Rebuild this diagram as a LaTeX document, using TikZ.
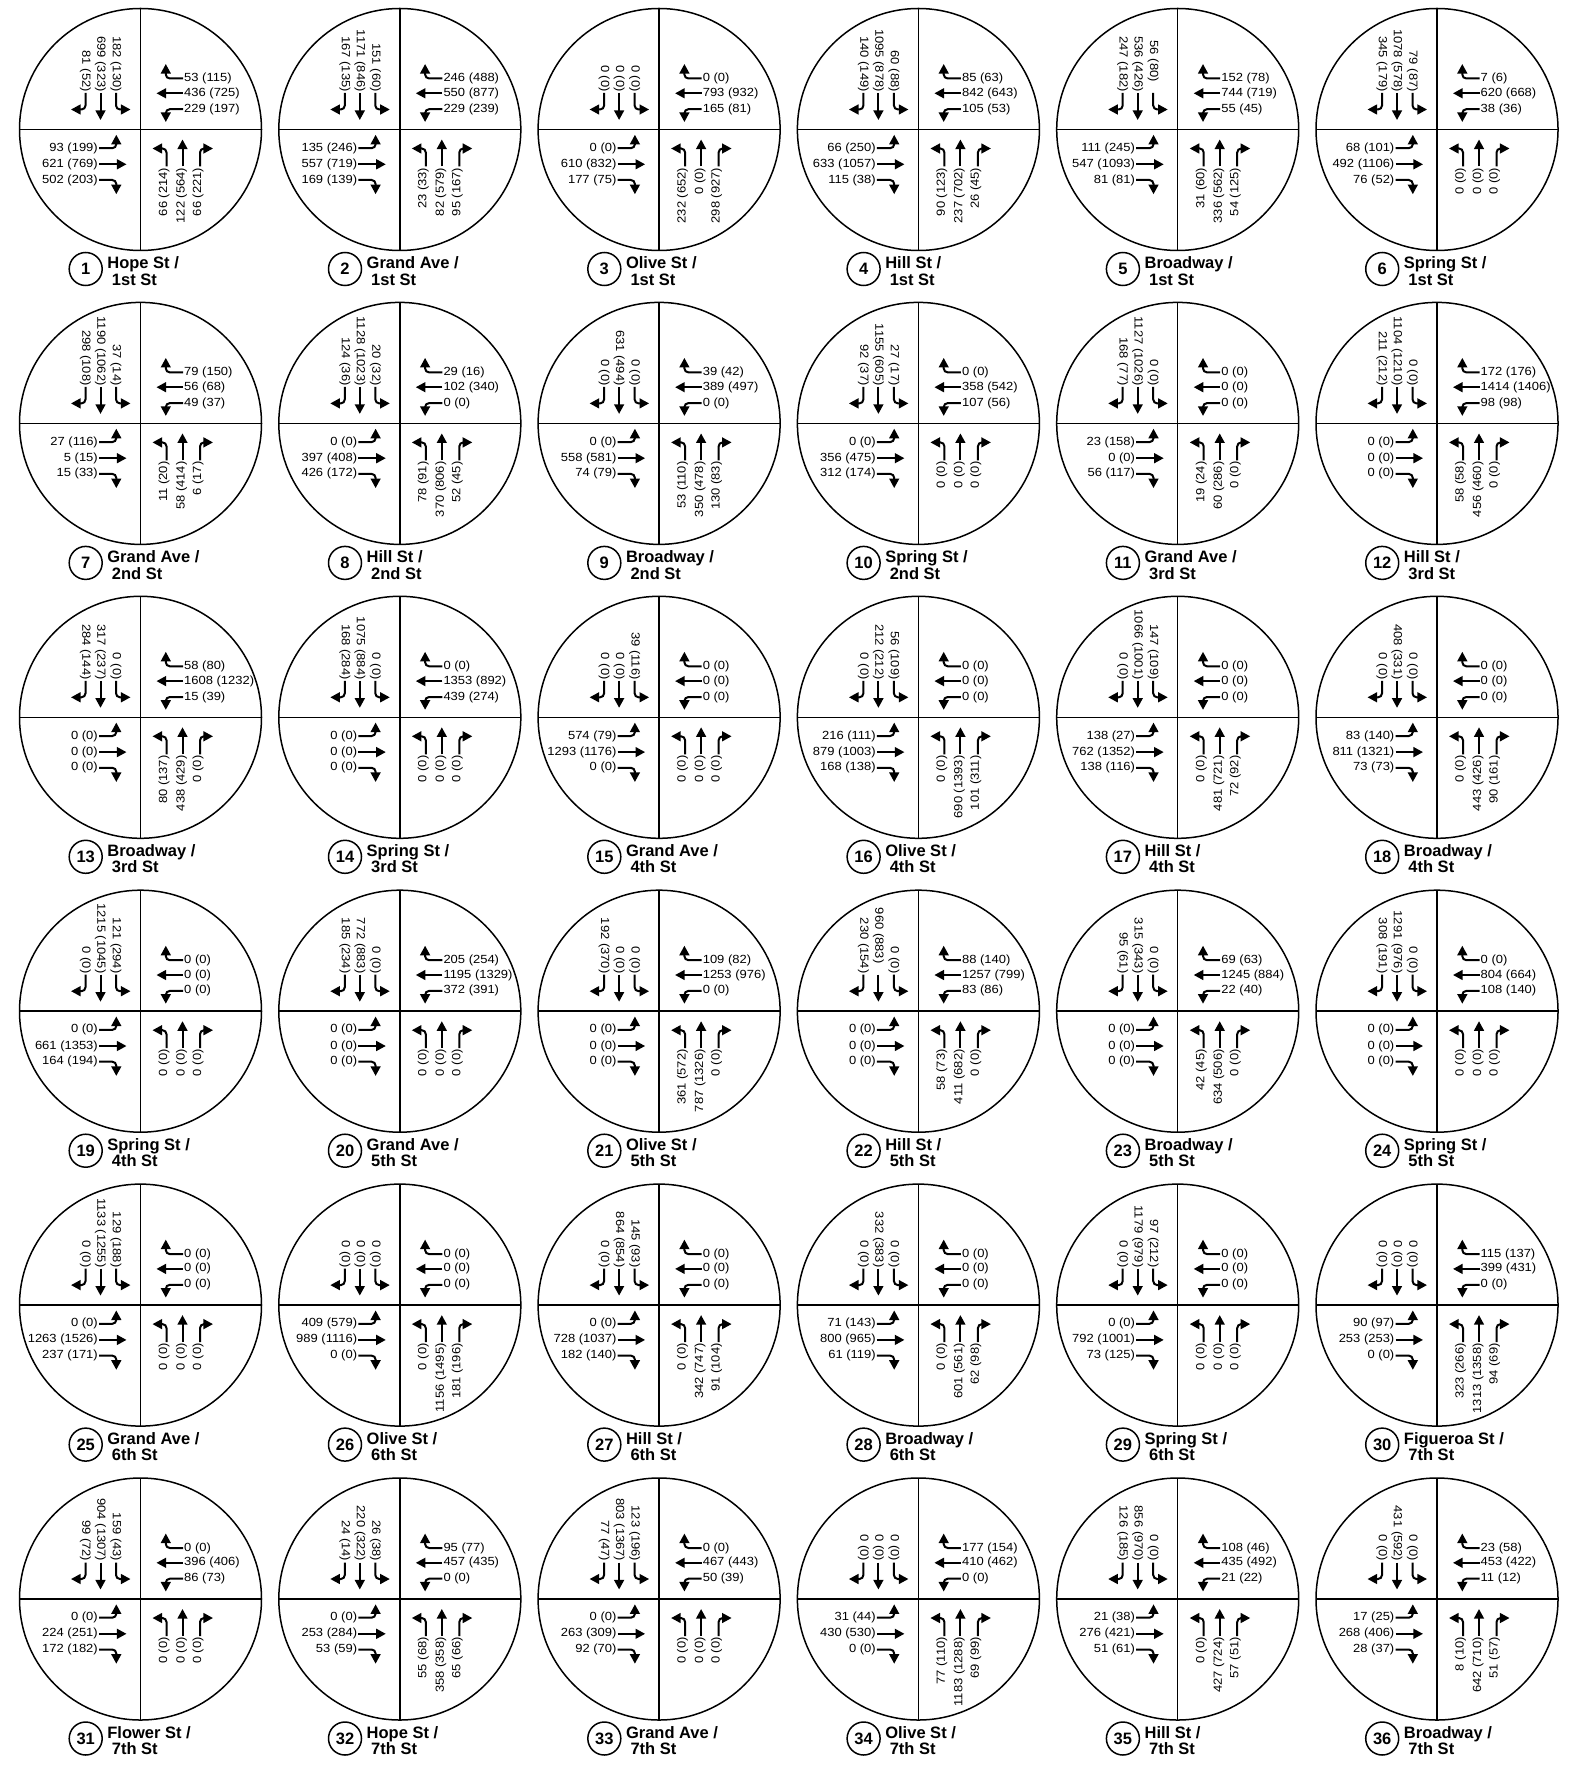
\documentclass[tikz,border=0pt]{standalone}
\usepackage{fontspec}
\setmainfont{Liberation Sans}
\newfontfamily\volfont[FakeStretch=1.1]{Liberation Sans}
\usetikzlibrary{arrows.meta}
\tikzset{
  ring/.style={line width=0.75pt},
  arr/.style={line width=1pt,-{Triangle[length=4.8pt,width=4.9pt]}},
  turn/.style={arr,rounded corners=2pt},
  vtxt/.style={font=\volfont\fontsize{5.9pt}{7pt}\selectfont,inner sep=0.4pt},
  lab/.style={font=\bfseries\fontsize{8.25pt}{10pt}\selectfont,inner sep=0pt},
  numcirc/.style={circle,draw,line width=0.75pt,minimum size=16.5pt,inner sep=0pt,
    font=\bfseries\fontsize{8.25pt}{10pt}\selectfont}
}
\newcommand\SB[3]{\def\sbA{#1}\def\sbB{#2}\def\sbC{#3}}
\newcommand\WB[3]{\def\wbA{#1}\def\wbB{#2}\def\wbC{#3}}
\newcommand\EB[3]{\def\ebA{#1}\def\ebB{#2}\def\ebC{#3}}
\newcommand\NB[3]{\def\nbA{#1}\def\nbB{#2}\def\nbC{#3}}
\def\sboA{0}\def\sboB{0}\def\sboC{0}
\newcommand\Xsect[5]{%
 \begin{scope}[shift={({140.5+259.3*#1},{129.5+293.9*#2})}]
  \draw[ring] (0,0) circle[radius=60.5pt];
  \draw[ring] (0,-121) -- (0,121);
  \draw[ring] (-121,0) -- (121,0);
  % southbound
  \node[vtxt,rotate=-90,anchor=east] (s#3a) at (-55,{-36.5+(\sboA)}) {\sbA};
  \node[vtxt,rotate=-90,anchor=east] (s#3b) at (-40,{-36.5+(\sboB)}) {\sbB};
  \node[vtxt,rotate=-90,anchor=east] (s#3c) at (-24.5,{-36.5+(\sboC)}) {\sbC};
  \draw[turn] (-55,-36.5) -- (-55,-20) -- (-69.5,-20);
  \draw[arr] (-40,-36.5) -- (-40,-9.5);
  \draw[turn] (-24.5,-36.5) -- (-24.5,-20) -- (-10,-20);
  % westbound
  \node[vtxt,anchor=west] (w#3a) at (42.5,-51) {\wbA};
  \node[vtxt,anchor=west] (w#3b) at (42.5,-36.2) {\wbB};
  \node[vtxt,anchor=west] (w#3c) at (42.5,-20.3) {\wbC};
  \draw[turn] (42.5,-51) -- (25.3,-51) -- (25.3,-65.5);
  \draw[arr] (42.5,-36.2) -- (16,-36.2);
  \draw[turn] (42.5,-20.3) -- (25.3,-20.3) -- (25.3,-7.5);
  % eastbound
  \node[vtxt,anchor=east] (e#3a) at (-41.5,18.7) {\ebA};
  \node[vtxt,anchor=east] (e#3b) at (-41.5,34.8) {\ebB};
  \node[vtxt,anchor=east] (e#3c) at (-41.5,50.5) {\ebC};
  \draw[turn] (-41.5,18.7) -- (-24.2,18.7) -- (-24.2,5.3);
  \draw[arr] (-41.5,34.8) -- (-14,34.8);
  \draw[turn] (-41.5,50.5) -- (-24.2,50.5) -- (-24.2,64.7);
  % northbound
  \node[vtxt,rotate=90,anchor=east] (n#3a) at (23.5,37) {\nbA};
  \node[vtxt,rotate=90,anchor=east] (n#3b) at (41,37) {\nbB};
  \node[vtxt,rotate=90,anchor=east] (n#3c) at (57.5,37) {\nbC};
  \draw[turn] (26,37) -- (26,19) -- (12,19);
  \draw[arr] (42,37) -- (42,10);
  \draw[turn] (59.5,37) -- (59.5,19) -- (72.5,19);
  % label
  \node[numcirc] (num#3) at (-54.8,139.5) {#3};
  \node[lab,anchor=base west] (la#3) at (-33.5,139.2) {#4};
  \node[lab,anchor=base west] (lb#3) at (-29,155.6) {#5};
 \end{scope}}
\begin{document}
\begin{tikzpicture}[x=0.5pt,y=-0.5pt]
\fill[white] (0,0) rectangle (1568,1775);
\useasboundingbox (0,0) rectangle (1568,1775);
% row 1
\SB{81 (52)}{699 (323)}{182 (130)}\WB{53 (115)}{436 (725)}{229 (197)}\EB{93 (199)}{621 (769)}{502 (203)}\NB{66 (214)}{122 (564)}{66 (221)}
\Xsect{0}{0}{1}{Hope St /}{1st St}
\SB{167 (135)}{1171 (846)}{151 (60)}\WB{246 (488)}{550 (877)}{229 (239)}\EB{135 (246)}{557 (719)}{169 (139)}\NB{23 (33)}{82 (579)}{95 (167)}
\Xsect{1}{0}{2}{Grand Ave /}{1st St}
\SB{0 (0)}{0 (0)}{0 (0)}\WB{0 (0)}{793 (932)}{165 (81)}\EB{0 (0)}{610 (832)}{177 (75)}\NB{232 (652)}{0 (0)}{298 (927)}
\Xsect{2}{0}{3}{Olive St /}{1st St}
\SB{140 (149)}{1095 (878)}{60 (88)}\WB{85 (63)}{842 (643)}{105 (53)}\EB{66 (250)}{633 (1057)}{115 (38)}\NB{90 (123)}{237 (702)}{26 (45)}
\Xsect{3}{0}{4}{Hill St /}{1st St}
\SB{247 (182)}{536 (426)}{56 (80)}\WB{152 (78)}{744 (719)}{55 (45)}\EB{111 (245)}{547 (1093)}{81 (81)}\NB{31 (60)}{336 (562)}{54 (125)}
\def\sboC{-10}
\Xsect{4}{0}{5}{Broadway /}{1st St}
\def\sboC{0}
\SB{345 (179)}{1078 (578)}{79 (87)}\WB{7 (6)}{620 (668)}{38 (36)}\EB{68 (101)}{492 (1106)}{76 (52)}\NB{0 (0)}{0 (0)}{0 (0)}
\Xsect{5}{0}{6}{Spring St /}{1st St}
% row 2
\SB{298 (108)}{1190 (1062)}{37 (14)}\WB{79 (150)}{56 (68)}{49 (37)}\EB{27 (116)}{5 (15)}{15 (33)}\NB{11 (20)}{58 (414)}{6 (17)}
\Xsect{0}{1}{7}{Grand Ave /}{2nd St}
\SB{124 (36)}{1128 (1023)}{20 (32)}\WB{29 (16)}{102 (340)}{0 (0)}\EB{0 (0)}{397 (408)}{426 (172)}\NB{78 (91)}{370 (806)}{52 (45)}
\Xsect{1}{1}{8}{Hill St /}{2nd St}
\SB{0 (0)}{631 (494)}{0 (0)}\WB{39 (42)}{389 (497)}{0 (0)}\EB{0 (0)}{558 (581)}{74 (79)}\NB{53 (110)}{350 (478)}{130 (83)}
\Xsect{2}{1}{9}{Broadway /}{2nd St}
\SB{92 (37)}{1155 (605)}{27 (17)}\WB{0 (0)}{358 (542)}{107 (56)}\EB{0 (0)}{356 (475)}{312 (174)}\NB{0 (0)}{0 (0)}{0 (0)}
\Xsect{3}{1}{10}{Spring St /}{2nd St}
\SB{168 (77)}{1127 (1026)}{0 (0)}\WB{0 (0)}{0 (0)}{0 (0)}\EB{23 (158)}{0 (0)}{56 (117)}\NB{19 (24)}{60 (286)}{0 (0)}
\Xsect{4}{1}{11}{Grand Ave /}{3rd St}
\SB{211 (212)}{1104 (1210)}{0 (0)}\WB{172 (176)}{1414 (1406)}{98 (98)}\EB{0 (0)}{0 (0)}{0 (0)}\NB{58 (58)}{456 (460)}{0 (0)}
\Xsect{5}{1}{12}{Hill St /}{3rd St}
% row 3
\SB{284 (144)}{317 (237)}{0 (0)}\WB{58 (80)}{1608 (1232)}{15 (39)}\EB{0 (0)}{0 (0)}{0 (0)}\NB{80 (137)}{438 (429)}{0 (0)}
\Xsect{0}{2}{13}{Broadway /}{3rd St}
\SB{168 (284)}{1075 (884)}{0 (0)}\WB{0 (0)}{1353 (892)}{439 (274)}\EB{0 (0)}{0 (0)}{0 (0)}\NB{0 (0)}{0 (0)}{0 (0)}
\Xsect{1}{2}{14}{Spring St /}{3rd St}
\SB{0 (0)}{0 (0)}{39 (116)}\WB{0 (0)}{0 (0)}{0 (0)}\EB{574 (79)}{1293 (1176)}{0 (0)}\NB{0 (0)}{0 (0)}{0 (0)}
\Xsect{2}{2}{15}{Grand Ave /}{4th St}
\SB{0 (0)}{212 (212)}{56 (109)}\WB{0 (0)}{0 (0)}{0 (0)}\EB{216 (111)}{879 (1003)}{168 (138)}\NB{0 (0)}{690 (1393)}{101 (311)}
\Xsect{3}{2}{16}{Olive St /}{4th St}
\SB{0 (0)}{1066 (1001)}{147 (109)}\WB{0 (0)}{0 (0)}{0 (0)}\EB{138 (27)}{762 (1352)}{138 (116)}\NB{0 (0)}{481 (721)}{72 (92)}
\Xsect{4}{2}{17}{Hill St /}{4th St}
\SB{0 (0)}{408 (331)}{0 (0)}\WB{0 (0)}{0 (0)}{0 (0)}\EB{83 (140)}{811 (1321)}{73 (73)}\NB{0 (0)}{443 (426)}{90 (161)}
\Xsect{5}{2}{18}{Broadway /}{4th St}
% row 4
\SB{0 (0)}{1215 (1045)}{121 (294)}\WB{0 (0)}{0 (0)}{0 (0)}\EB{0 (0)}{661 (1353)}{164 (194)}\NB{0 (0)}{0 (0)}{0 (0)}
\Xsect{0}{3}{19}{Spring St /}{4th St}
\SB{185 (234)}{772 (883)}{0 (0)}\WB{205 (254)}{1195 (1329)}{372 (391)}\EB{0 (0)}{0 (0)}{0 (0)}\NB{0 (0)}{0 (0)}{0 (0)}
\Xsect{1}{3}{20}{Grand Ave /}{5th St}
\SB{192 (370)}{0 (0)}{0 (0)}\WB{109 (82)}{1253 (976)}{0 (0)}\EB{0 (0)}{0 (0)}{0 (0)}\NB{361 (572)}{787 (1326)}{0 (0)}
\Xsect{2}{3}{21}{Olive St /}{5th St}
\SB{230 (154)}{960 (883)}{0 (0)}\WB{88 (140)}{1257 (799)}{83 (86)}\EB{0 (0)}{0 (0)}{0 (0)}\NB{58 (73)}{411 (682)}{0 (0)}
\def\sboB{-10}
\Xsect{3}{3}{22}{Hill St /}{5th St}
\def\sboB{0}
\SB{95 (61)}{315 (343)}{0 (0)}\WB{69 (63)}{1245 (884)}{22 (40)}\EB{0 (0)}{0 (0)}{0 (0)}\NB{42 (45)}{634 (506)}{0 (0)}
\Xsect{4}{3}{23}{Broadway /}{5th St}
\SB{308 (191)}{1291 (976)}{0 (0)}\WB{0 (0)}{804 (664)}{108 (140)}\EB{0 (0)}{0 (0)}{0 (0)}\NB{0 (0)}{0 (0)}{0 (0)}
\Xsect{5}{3}{24}{Spring St /}{5th St}
% row 5
\SB{0 (0)}{1133 (1255)}{129 (188)}\WB{0 (0)}{0 (0)}{0 (0)}\EB{0 (0)}{1263 (1526)}{237 (171)}\NB{0 (0)}{0 (0)}{0 (0)}
\Xsect{0}{4}{25}{Grand Ave /}{6th St}
\SB{0 (0)}{0 (0)}{0 (0)}\WB{0 (0)}{0 (0)}{0 (0)}\EB{409 (579)}{989 (1116)}{0 (0)}\NB{0 (0)}{1156 (1495)}{181 (196)}
\Xsect{1}{4}{26}{Olive St /}{6th St}
\SB{0 (0)}{864 (854)}{145 (93)}\WB{0 (0)}{0 (0)}{0 (0)}\EB{0 (0)}{728 (1037)}{182 (140)}\NB{0 (0)}{342 (747)}{91 (104)}
\Xsect{2}{4}{27}{Hill St /}{6th St}
\SB{0 (0)}{332 (383)}{0 (0)}\WB{0 (0)}{0 (0)}{0 (0)}\EB{71 (143)}{800 (965)}{61 (119)}\NB{0 (0)}{601 (561)}{62 (98)}
\Xsect{3}{4}{28}{Broadway /}{6th St}
\SB{0 (0)}{1179 (979)}{97 (212)}\WB{0 (0)}{0 (0)}{0 (0)}\EB{0 (0)}{792 (1001)}{73 (125)}\NB{0 (0)}{0 (0)}{0 (0)}
\Xsect{4}{4}{29}{Spring St /}{6th St}
\SB{0 (0)}{0 (0)}{0 (0)}\WB{115 (137)}{399 (431)}{0 (0)}\EB{90 (97)}{253 (253)}{0 (0)}\NB{323 (266)}{1313 (1358)}{94 (69)}
\Xsect{5}{4}{30}{Figueroa St /}{7th St}
% row 6
\SB{99 (72)}{904 (1307)}{159 (43)}\WB{0 (0)}{396 (406)}{86 (73)}\EB{0 (0)}{224 (251)}{172 (182)}\NB{0 (0)}{0 (0)}{0 (0)}
\Xsect{0}{5}{31}{Flower St /}{7th St}
\SB{24 (14)}{220 (322)}{26 (38)}\WB{95 (77)}{457 (435)}{0 (0)}\EB{0 (0)}{253 (284)}{53 (59)}\NB{55 (68)}{358 (358)}{65 (66)}
\Xsect{1}{5}{32}{Hope St /}{7th St}
\SB{77 (47)}{803 (1367)}{123 (196)}\WB{0 (0)}{467 (443)}{50 (39)}\EB{0 (0)}{263 (309)}{92 (70)}\NB{0 (0)}{0 (0)}{0 (0)}
\Xsect{2}{5}{33}{Grand Ave /}{7th St}
\SB{0 (0)}{0 (0)}{0 (0)}\WB{177 (154)}{410 (462)}{0 (0)}\EB{31 (44)}{430 (530)}{0 (0)}\NB{77 (110)}{1183 (1288)}{69 (99)}
\Xsect{3}{5}{34}{Olive St /}{7th St}
\SB{126 (185)}{856 (970)}{0 (0)}\WB{108 (46)}{435 (492)}{21 (22)}\EB{21 (38)}{276 (421)}{51 (61)}\NB{0 (0)}{427 (724)}{57 (51)}
\Xsect{4}{5}{35}{Hill St /}{7th St}
\SB{0 (0)}{431 (592)}{0 (0)}\WB{23 (58)}{453 (422)}{11 (12)}\EB{17 (25)}{268 (406)}{28 (37)}\NB{8 (10)}{642 (710)}{51 (57)}
\Xsect{5}{5}{36}{Broadway /}{7th St}
\end{tikzpicture}
\end{document}
